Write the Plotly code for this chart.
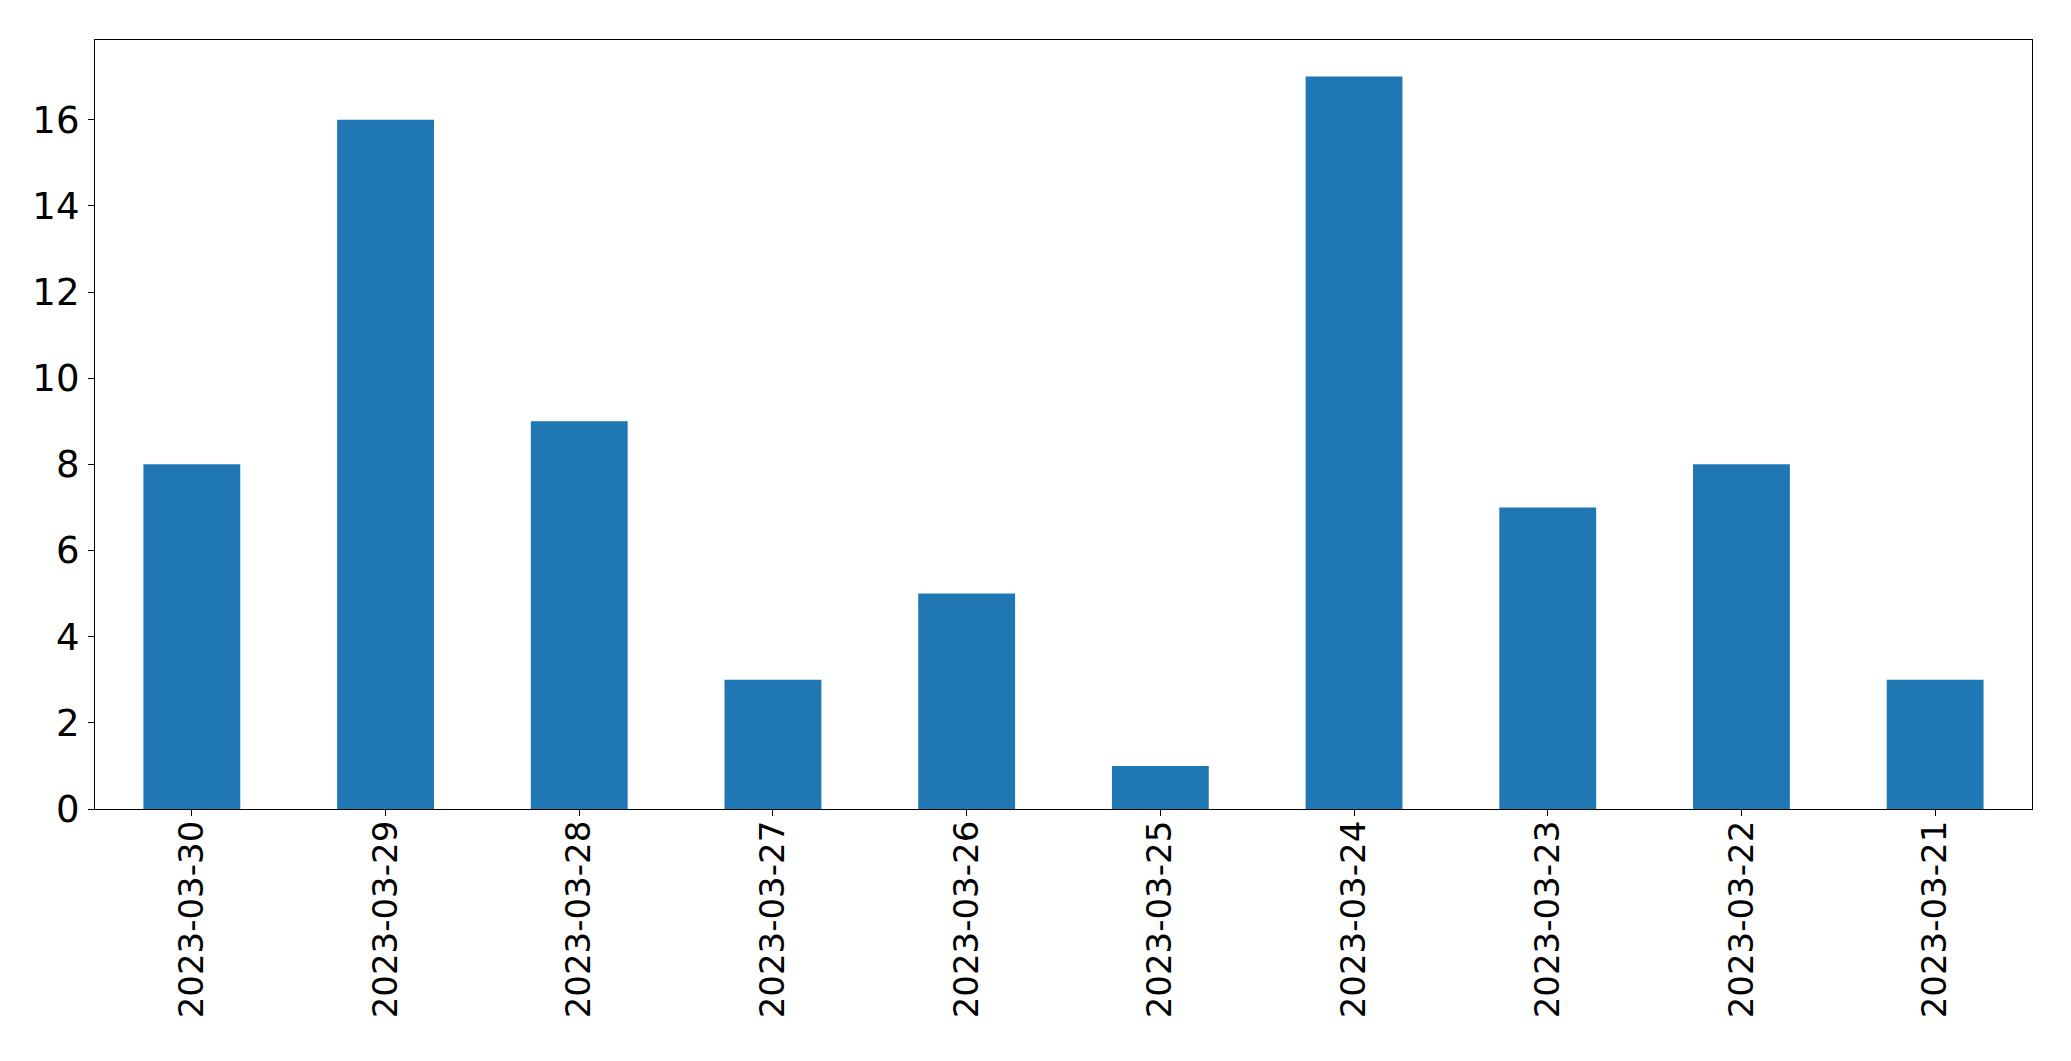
import plotly.graph_objects as go

dates = ["2023-03-30", "2023-03-29", "2023-03-28", "2023-03-27", "2023-03-26",
         "2023-03-25", "2023-03-24", "2023-03-23", "2023-03-22", "2023-03-21"]
counts = [8, 16, 9, 3, 5, 1, 17, 7, 8, 3]
y_ticks = [0, 2, 4, 6, 8, 10, 12, 14, 16]

fig = go.Figure(go.Bar(x=dates, y=counts, marker_color="#1f77b4",
                       marker_line_width=0, width=0.5))

fig.update_layout(
    width=2071, height=1061,
    margin=dict(l=95, r=39, t=40, b=252, autoexpand=False),
    paper_bgcolor="white", plot_bgcolor="white",
    font=dict(family="DejaVu Sans", size=34, color="black"),
    showlegend=False,
)
fig.update_xaxes(type="category", range=[-0.5, 9.5], tickangle=-90,
                 tickfont=dict(size=34),
                 showline=True, linecolor="black", linewidth=1.3, mirror=True,
                 ticks="outside", ticklen=6, tickwidth=1.3, tickcolor="black",
                 showgrid=False, zeroline=False, automargin=False,
                 ticklabelstandoff=-9)
fig.update_yaxes(range=[0, 17.85], tickvals=y_ticks,
                 tickfont=dict(size=37),
                 showline=True, linecolor="black", linewidth=1.3, mirror=True,
                 ticks="outside", ticklen=6, tickwidth=1.3, tickcolor="black",
                 showgrid=False, zeroline=False, automargin=False,
                 ticklabelstandoff=1)

fig.write_html("out.html")
